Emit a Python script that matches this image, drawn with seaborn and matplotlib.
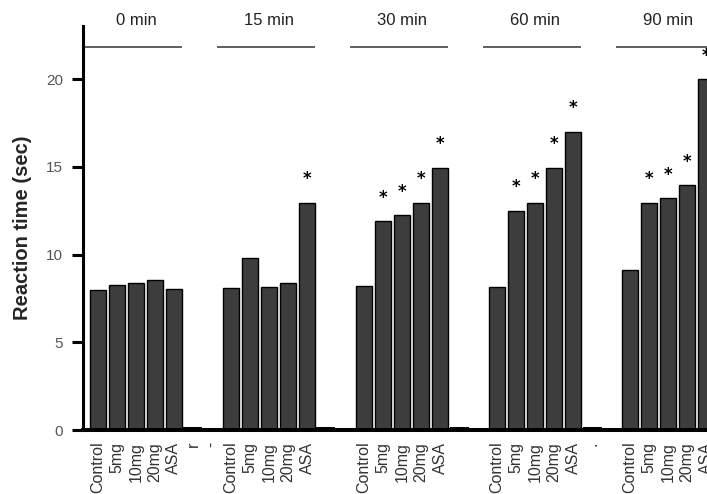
import matplotlib
matplotlib.use("Agg")
import matplotlib.pyplot as plt
import numpy as np
import pandas as pd
import seaborn as sns

# reaction time (sec) per time point
times = ["0 min", "15 min", "30 min", "60 min", "90 min"]
doses = ["Control", "5mg", "10mg", "20mg", "ASA"]
t0 = [7.95, 8.25, 8.4, 8.55, 8.05]
t15 = [8.1, 9.8, 8.15, 8.4, 12.95]
t30 = [8.2, 11.9, 12.25, 12.95, 14.95]
t60 = [8.15, 12.5, 12.95, 14.95, 17.0]
t90 = [9.1, 12.95, 13.2, 13.95, 20.0]
# significant vs control (asterisk)
sig0 = [0, 0, 0, 0, 0]
sig15 = [0, 0, 0, 0, 1]
sig30 = [0, 1, 1, 1, 1]
sig60 = [0, 1, 1, 1, 1]
sig90 = [0, 1, 1, 1, 1]
# the two thin filler bars between the groups and their stray labels
gap_vals = [0.15, 0.1]
gap_labels = [["r", "-"], ["", ""], ["", ""], [".", ""], ["", ""]]

values = [t0, t15, t30, t60, t90]
sigs = [sig0, sig15, sig30, sig60, sig90]

rows = []
for g, t in enumerate(times):
    for d, v, s in zip(doses, values[g], sigs[g]):
        rows.append({"slot": t + " " + d, "label": d, "value": v, "kind": "drug", "sig": s})
    for k, gv in enumerate(gap_vals):
        rows.append({"slot": t + " gap" + str(k), "label": gap_labels[g][k],
                     "value": gv, "kind": "gap", "sig": 0})
df = pd.DataFrame(rows)
order = list(df["slot"])

sns.set_theme(style="ticks")
plt.rcParams["font.family"] = ["Liberation Sans", "DejaVu Sans"]

fig = plt.figure(figsize=(7.07, 4.94), dpi=100)
ax = fig.add_axes([83.3 / 707, 1 - 430 / 494, 1 - 83.3 / 707, 404 / 494])

sns.barplot(data=df[df["kind"] == "drug"], x="slot", y="value", order=order,
            color="#3d3d3d", saturation=1, edgecolor="black", linewidth=1.0,
            width=0.87, errorbar=None, ax=ax)
sns.barplot(data=df[df["kind"] == "gap"], x="slot", y="value", order=order,
            color="black", saturation=1, linewidth=0, width=1.0,
            errorbar=None, ax=ax)

# asterisks
for i, r in df.reset_index(drop=True).iterrows():
    if r["sig"]:
        ax.text(i, r["value"] + 1.05, "*", ha="center", va="baseline",
                fontsize=12, fontweight="bold", family="DejaVu Sans", color="black")

# time headers with a rule underneath
for g, t in enumerate(times):
    start = g * 7
    ax.plot([start - 0.75, start + 4.4], [21.8, 21.8], color="#444444", lw=1.2,
            solid_capstyle="butt", clip_on=False)
    ax.text(start + 2, 23.35, t, ha="center", va="center", fontsize=12,
            color="#222222", clip_on=False)

ax.set_xticks(range(len(order)))
ax.set_xticklabels(df["label"], rotation=90, fontsize=11.5, color="#333333", va="top")
ax.tick_params(axis="x", length=0, pad=8.5)
ax.set_xlim(-0.77, 32.05)
ax.set_ylim(0, 23.02)
ax.set_yticks([0, 5, 10, 15, 20])
ax.tick_params(axis="y", length=8, width=2.2, color="black", labelsize=11,
               labelcolor="#555555", pad=6.5)
ax.set_xlabel("")
ax.set_ylabel("Reaction time (sec)", fontsize=14.5, fontweight="bold", labelpad=10)

for side in ["top", "right"]:
    ax.spines[side].set_visible(False)
ax.spines["left"].set_linewidth(2.2)
ax.spines["bottom"].set_linewidth(2.9)
ax.spines["left"].set_color("black")
ax.spines["bottom"].set_color("black")

fig.savefig("out.png", dpi=100)
